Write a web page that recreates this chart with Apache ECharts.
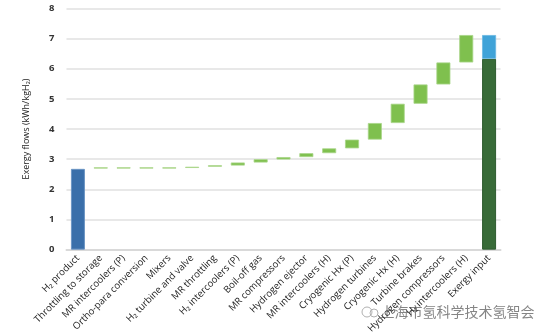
<!DOCTYPE html>
<html>
<head>
<meta charset="utf-8">
<script src="https://cdn.jsdelivr.net/npm/echarts@6/dist/echarts.min.js"></script>
<style>
html,body{margin:0;padding:0;background:#fff;}
#c{width:554px;height:336px;}
</style>
</head>
<body>
<div id="c"></div>
<script>
var categories = ["H\u2082 product","Throttling to storage","MR intercoolers (P)","Ortho-para conversion","Mixers","H\u2082 turbine and valve","MR throttling","H\u2082 intercoolers (P)","Boil-off gas","MR compressors","Hydrogen ejector","MR intercoolers (H)","Cryogenic Hx (P)","Hydrogen turbines","Cryogenic Hx (H)","Turbine brakes","Hydrogen compressors","H\u2082 intercoolers (H)","Exergy input"];
var lows  = [0, 2.69, 2.69, 2.69, 2.69, 2.71, 2.75, 2.79, 2.89, 2.99, 3.07, 3.20, 3.36, 3.65, 4.20, 4.84, 5.48, 6.21, 0];
var highs = [2.68, 2.73, 2.73, 2.73, 2.73, 2.75, 2.80, 2.89, 3.00, 3.07, 3.20, 3.36, 3.65, 4.20, 4.84, 5.48, 6.21, 7.12, 6.33];
var exergyTop = 7.12;
var yTicks = [0,1,2,3,4,5,6,7,8];
var watermarkText = "上海市氢科学技术氢智会";

var last = categories.length - 1;
function colorFor(i){
  if(i===0) return {c:'#3a6faa', b:'#6b95c4'};
  if(i===last) return {c:'#386b38', b:'#2f5c30'};
  return {c:'#7fc04e', b:'#a9d68a'};
}
var segData = categories.map(function(_, i){
  var col = colorFor(i);
  return {value: +(highs[i]-lows[i]).toFixed(3), itemStyle:{color:col.c, borderColor:col.b, borderWidth:(i===0||i===last)?1:0.8}};
});
var topData = categories.map(function(_, i){ return i===last ? +(exergyTop-highs[i]).toFixed(3) : '-'; });

var chart = echarts.init(document.getElementById('c'), null, {renderer:'canvas'});
chart.setOption({
  animation:false,
  textStyle:{fontFamily:'"Open Sans", "Noto Sans", sans-serif'},
  grid:{left:66.5, right:53.5, top:8.5, bottom:83.5, containLabel:false},
  xAxis:{
    type:'category', data:categories,
    axisLine:{show:true, lineStyle:{color:'#d9d9d9', width:2}},
    axisTick:{show:false},
    axisLabel:{rotate:45, fontSize:9.6, color:'#222', margin:7, interval:0, fontFamily:'"Open Sans", sans-serif'}
  },
  yAxis:{
    type:'value', min:yTicks[0], max:yTicks[yTicks.length-1], interval:1,
    name:'Exergy flows (kWh/kgH\u2082)', nameLocation:'middle', nameRotate:90, nameGap:36,
    nameTextStyle:{fontSize:9, color:'#222', fontFamily:'"Open Sans", sans-serif'},
    axisLine:{show:false}, axisTick:{show:false},
    axisLabel:{fontSize:9.5, color:'#333', margin:12, fontWeight:'bold', fontFamily:'"Open Sans", sans-serif'},
    splitLine:{lineStyle:{color:'#e0e0e0', width:1.5}}
  },
  series:[
    {type:'bar', stack:'w', data:lows, barWidth:14, itemStyle:{color:'rgba(0,0,0,0)'}, silent:true},
    {type:'bar', stack:'w', data:segData, barWidth:14},
    {type:'bar', stack:'w', data:topData, barWidth:14, itemStyle:{color:'#40a3d8', borderColor:'#6bb8e2', borderWidth:0.8}}
  ],
  graphic:[
    {type:'circle', shape:{cx:367, cy:312, r:5}, style:{fill:'none', stroke:'#b0b0b0', lineWidth:1}},
    {type:'circle', shape:{cx:374, cy:313, r:4}, style:{fill:'none', stroke:'#b0b0b0', lineWidth:1}},
    {type:'text', left:380, top:304, style:{text:watermarkText, fontSize:14, fill:'#858585', stroke:'#fff', lineWidth:1, fontFamily:'"Noto Sans CJK SC", sans-serif'}}
  ]
});
</script>
</body>
</html>
